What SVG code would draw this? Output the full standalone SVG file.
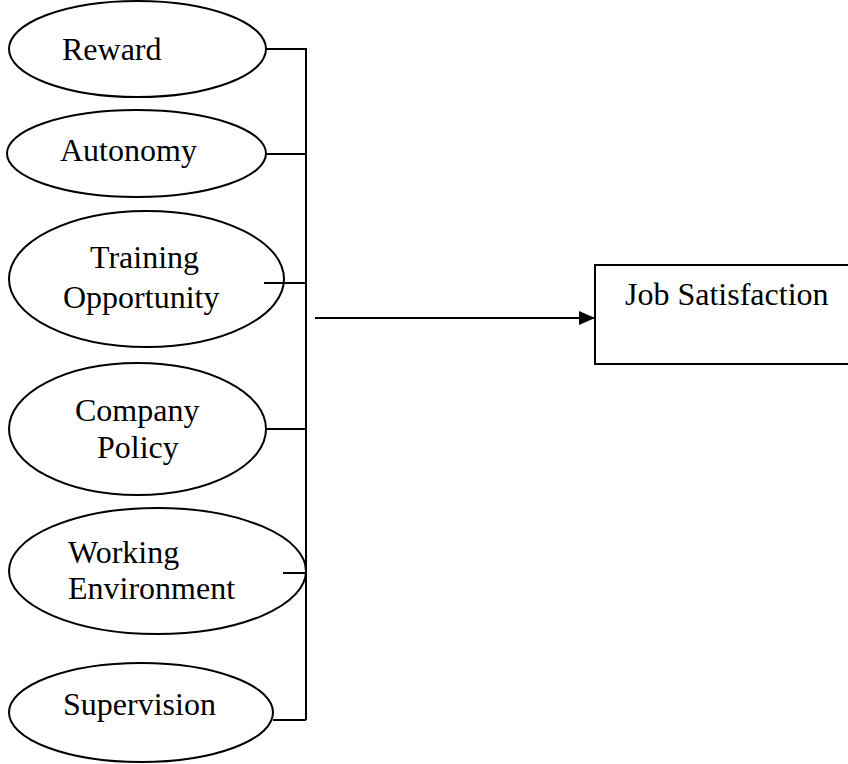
<svg xmlns="http://www.w3.org/2000/svg" width="848" height="764" viewBox="0 0 848 764">
  <style>
    .shape { fill: #ffffff; stroke: #000000; stroke-width: 2; }
    .label { font-family: "Liberation Serif", "Times New Roman", serif; font-size: 32px; fill: #000000; }
    .wire { fill: none; stroke: #000000; stroke-width: 2; }
  </style>
  <defs>
    <marker id="arrowhead" markerWidth="16" markerHeight="14" refX="16" refY="7" orient="auto" markerUnits="userSpaceOnUse">
      <path d="M0,0 L16,7 L0,14 Z" fill="#000000"/>
    </marker>
  </defs>
  <rect width="848" height="764" fill="#ffffff"/>

  <g id="node-reward">
    <ellipse class="shape" cx="137.5" cy="49" rx="128.5" ry="48"/>
    <text class="label" x="62" y="60">Reward</text>
  </g>
  <g id="node-autonomy">
    <ellipse class="shape" cx="136.5" cy="153.5" rx="129.5" ry="43.5"/>
    <text class="label" x="60" y="161">Autonomy</text>
  </g>
  <g id="node-training">
    <ellipse class="shape" cx="146.5" cy="279" rx="137.5" ry="68"/>
    <text class="label" x="90" y="268">Training</text>
    <text class="label" x="63" y="308">Opportunity</text>
  </g>
  <g id="node-company">
    <ellipse class="shape" cx="137.5" cy="429" rx="128.5" ry="66"/>
    <text class="label" x="75" y="421">Company</text>
    <text class="label" x="97" y="458">Policy</text>
  </g>
  <g id="node-working">
    <ellipse class="shape" cx="157.5" cy="571" rx="148.5" ry="63"/>
    <text class="label" x="68" y="563">Working</text>
    <text class="label" x="68" y="599">Environment</text>
  </g>
  <g id="node-supervision">
    <ellipse class="shape" cx="141" cy="712.5" rx="132" ry="49.5"/>
    <text class="label" x="63" y="715">Supervision</text>
  </g>
  <g id="node-job-satisfaction">
    <rect class="shape" x="595" y="265" width="270" height="99"/>
    <text class="label" x="625" y="305">Job Satisfaction</text>
  </g>

  <g id="connectors">
    <path class="wire" d="M266,49 H306 V720"/>
    <path class="wire" d="M266,154 H306"/>
    <path class="wire" d="M264,283 H306"/>
    <path class="wire" d="M266,429 H306"/>
    <path class="wire" d="M283,573 H306"/>
    <path class="wire" d="M273,720 H306"/>
    <path class="wire" d="M315,318 H595" marker-end="url(#arrowhead)"/>
  </g>
</svg>
